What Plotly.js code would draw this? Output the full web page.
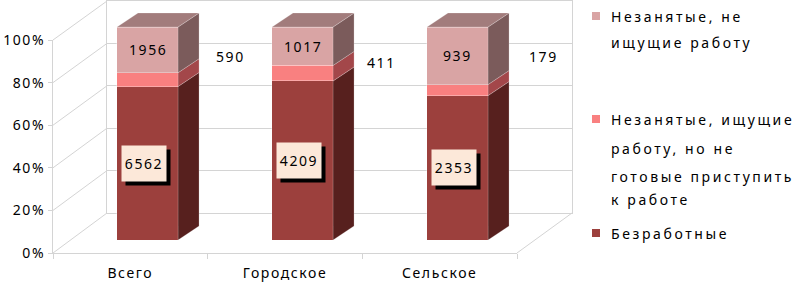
<!DOCTYPE html>
<html><head><meta charset="utf-8">
<script src="https://cdn.plot.ly/plotly-3.0.1.min.js"></script>
<style>
html,body{margin:0;padding:0;background:#fff;}
text{letter-spacing:1.6px;}
</style></head><body><div id="chart" style="width:796px;height:284px;"></div>
<script>
// ---- data ----
const categories = ['Всего', 'Городское', 'Сельское'];
const unemployed = [6562, 4209, 2353];        // Безработные
const seekingNotReady = [590, 411, 179];      // Незанятые, ищущие работу, но не готовые приступить к работе
const notSeeking = [1956, 1017, 939];         // Незанятые, не ищущие работу
const yTicks = [0, 20, 40, 60, 80, 100];
const yTickLabels = ['0%', '20%', '40%', '60%', '80%', '100%'];
const legendLines = [
  ['Незанятые, не', 'ищущие работу'],
  ['Незанятые, ищущие', 'работу, но не', 'готовые приступить', 'к работе'],
  ['Безработные']
];

// ---- layout helpers (pixels -> paper) ----
const W = 796, H = 284;
const px = x => x / W;
const py = y => 1 - y / H;
const FONT = 'Noto Sans, Open Sans, sans-serif';
const GRID = '#D4D4D4';

const front = {x0: 53, x1: 517, y0: 253, y1: 40};
const back = {x0: 107, x1: 572, y0: 213, y1: 1};
const barPlane = {x0: 70, x1: 535, y0: 240, y1: 27};
const barW = 0.394;
const dx = 21 / 155;
const ypp = (barPlane.y0 - barPlane.y1) / 100;
const dy = 14 / ypp;
const barTopPx = 6;
const y2max = 100 * (barPlane.y0 - barTopPx) / (barPlane.y0 - barPlane.y1);

const colors = {
  front: ['#9C403D', '#F98080', '#D9A4A4'],
  side:  ['#57201E', '#A3474A', '#7B5B5B'],
  top: '#A27C7C'
};

const series = [unemployed, seekingNotReady, notSeeking];
const names = ['Безработные', 'Незанятые, ищущие работу, но не готовые приступить к работе', 'Незанятые, не ищущие работу'];
const totals = categories.map((c, i) => series.reduce((s, a) => s + a[i], 0));
const idx = categories.map((c, i) => i);

const traces = [];
series.forEach((vals, k) => {
  traces.push({
    type: 'bar', x: idx, y: vals, xaxis: 'x2', yaxis: 'y2', width: barW,
    name: names[k], showlegend: false, hoverinfo: 'skip',
    marker: {color: colors.front[k], line: {color: 'rgba(255,255,255,0.45)', width: 0.7}}
  });
});
categories.forEach((c, i) => {
  let cum = 0;
  const r = i + barW / 2, l = i - barW / 2;
  series.forEach((vals, k) => {
    const a = cum, b = cum + vals[i] / totals[i] * 100;
    cum = b;
    traces.push({
      type: 'scatter', mode: 'lines', xaxis: 'x2', yaxis: 'y2', showlegend: false, hoverinfo: 'skip',
      x: [r, r + dx, r + dx, r, r], y: [a, a + dy, b + dy, b, a],
      fill: 'toself', fillcolor: colors.side[k],
      line: {color: 'rgba(255,255,255,0.35)', width: 0.6}
    });
  });
  traces.push({
    type: 'scatter', mode: 'lines', xaxis: 'x2', yaxis: 'y2', showlegend: false, hoverinfo: 'skip',
    x: [l, l + dx, r + dx, r, l], y: [cum, cum + dy, cum + dy, cum, cum],
    fill: 'toself', fillcolor: colors.top,
    line: {color: 'rgba(255,255,255,0.35)', width: 0.6}
  });
});
traces.push({type: 'scatter', x: categories, y: [null, null, null], xaxis: 'x3', yaxis: 'y3', showlegend: false, hoverinfo: 'skip'});
traces.push({type: 'scatter', x: [0], y: [null], xaxis: 'x', yaxis: 'y', showlegend: false, hoverinfo: 'skip'});

const ann = [];
const midLabelShift = [83, 79, 86];
const midLabelY = [86, 83.5, 86];
categories.forEach((c, i) => {
  const pBot = unemployed[i] / totals[i] * 100;
  const pMid = seekingNotReady[i] / totals[i] * 100;
  const pTop = notSeeking[i] / totals[i] * 100;
  ann.push({xref: 'x2', yref: 'y2', x: i, y: pBot / 2, xshift: 0, yshift: -4, text: '&nbsp;',
    showarrow: false, bgcolor: '#000', width: 44, height: 35, borderpad: 0, font: {family: FONT, size: 14, color: '#000'}});
  ann.push({xref: 'x2', yref: 'y2', x: i, y: pBot / 2, xshift: -4, text: String(unemployed[i]),
    showarrow: false, bgcolor: '#FCE8D9', width: 44, height: 35, borderpad: 0, font: {family: FONT, size: 14, color: '#000'}});
  ann.push({xref: 'x2', yref: 'y2', x: i, y: pBot + pMid + pTop / 2, text: String(notSeeking[i]),
    showarrow: false, font: {family: FONT, size: 14, color: '#000'}});
  ann.push({xref: 'x2', yref: 'y2', x: i, y: midLabelY[i], xshift: midLabelShift[i], text: String(seekingNotReady[i]),
    showarrow: false, font: {family: FONT, size: 14, color: '#000'}});
});
const legendY = [[16, 42], [119, 148, 176, 199], [233]];
const legendColors = [colors.front[2], colors.front[1], colors.front[0]];
const shapes = [];
legendLines.forEach((lines, k) => {
  lines.forEach((t, j) => {
    ann.push({xref: 'paper', yref: 'paper', x: px(609), y: py(legendY[k][j]), xanchor: 'left', yanchor: 'middle',
      align: 'left', text: '<span style="letter-spacing:2.6px">' + t + '</span>', showarrow: false,
      font: {family: FONT, size: 14, color: '#000'}});
  });
  const cy = legendY[k][0];
  shapes.push({type: 'rect', xref: 'paper', yref: 'paper', x0: px(592), x1: px(600), y0: py(cy - 4), y1: py(cy + 4),
    fillcolor: legendColors[k], line: {width: 0}});
});
const fy = v => front.y0 - (front.y0 - front.y1) * v / 100;
const by = v => back.y0 - (back.y0 - back.y1) * v / 100;
yTicks.forEach(v => {
  shapes.push({type: 'line', xref: 'paper', yref: 'paper', layer: 'below',
    x0: px(front.x0), y0: py(fy(v)), x1: px(back.x0), y1: py(by(v)), line: {color: GRID, width: 1}});
});
shapes.push({type: 'line', xref: 'paper', yref: 'paper', layer: 'below',
  x0: px(front.x1), y0: py(fy(0)), x1: px(back.x1), y1: py(by(0)), line: {color: GRID, width: 1}});

const layout = {
  width: W, height: H, margin: {l: 0, r: 0, t: 0, b: 0},
  paper_bgcolor: '#fff', plot_bgcolor: 'rgba(0,0,0,0)',
  showlegend: false, barmode: 'stack', barnorm: 'percent', bargap: 0,
  font: {family: FONT, size: 14, color: '#000'},
  xaxis: {domain: [px(back.x0), px(back.x1)], range: [-0.5, 2.5], anchor: 'y', showgrid: false, zeroline: false,
    showticklabels: false, ticks: '', showline: true, mirror: true, linecolor: GRID, linewidth: 1, fixedrange: true},
  yaxis: {domain: [py(back.y0), py(back.y1)], range: [0, 100], anchor: 'x', tickvals: yTicks, showgrid: true,
    gridcolor: GRID, gridwidth: 1, zeroline: false, showticklabels: false, ticks: '', showline: true, mirror: true,
    linecolor: GRID, linewidth: 1, fixedrange: true},
  xaxis2: {domain: [px(barPlane.x0), px(barPlane.x1)], range: [-0.5, 2.5], anchor: 'y2', visible: false, fixedrange: true},
  yaxis2: {domain: [py(barPlane.y0), py(barTopPx)], range: [0, y2max], anchor: 'x2', visible: false, fixedrange: true},
  xaxis3: {domain: [px(front.x0), px(front.x1)], type: 'category', categoryarray: categories, range: [-0.5, 2.5],
    anchor: 'y3', showgrid: false, zeroline: false, showline: true, linecolor: GRID, linewidth: 1,
    ticks: 'outside', ticklen: 5, tickcolor: GRID, tickson: 'boundaries', ticklabelstandoff: 7,
    tickfont: {family: FONT, size: 14, color: '#000'}, fixedrange: true},
  yaxis3: {domain: [py(front.y0), py(front.y1)], range: [0, 100], anchor: 'x3', tickvals: yTicks, ticktext: yTickLabels,
    showgrid: false, zeroline: false, showline: true, linecolor: GRID, linewidth: 1, ticks: 'outside', ticklen: 4,
    tickcolor: GRID, tickfont: {family: FONT, size: 14, color: '#000'}, fixedrange: true},
  annotations: ann, shapes: shapes
};
Plotly.newPlot('chart', traces, layout, {displayModeBar: false, staticPlot: true});
</script></body></html>
